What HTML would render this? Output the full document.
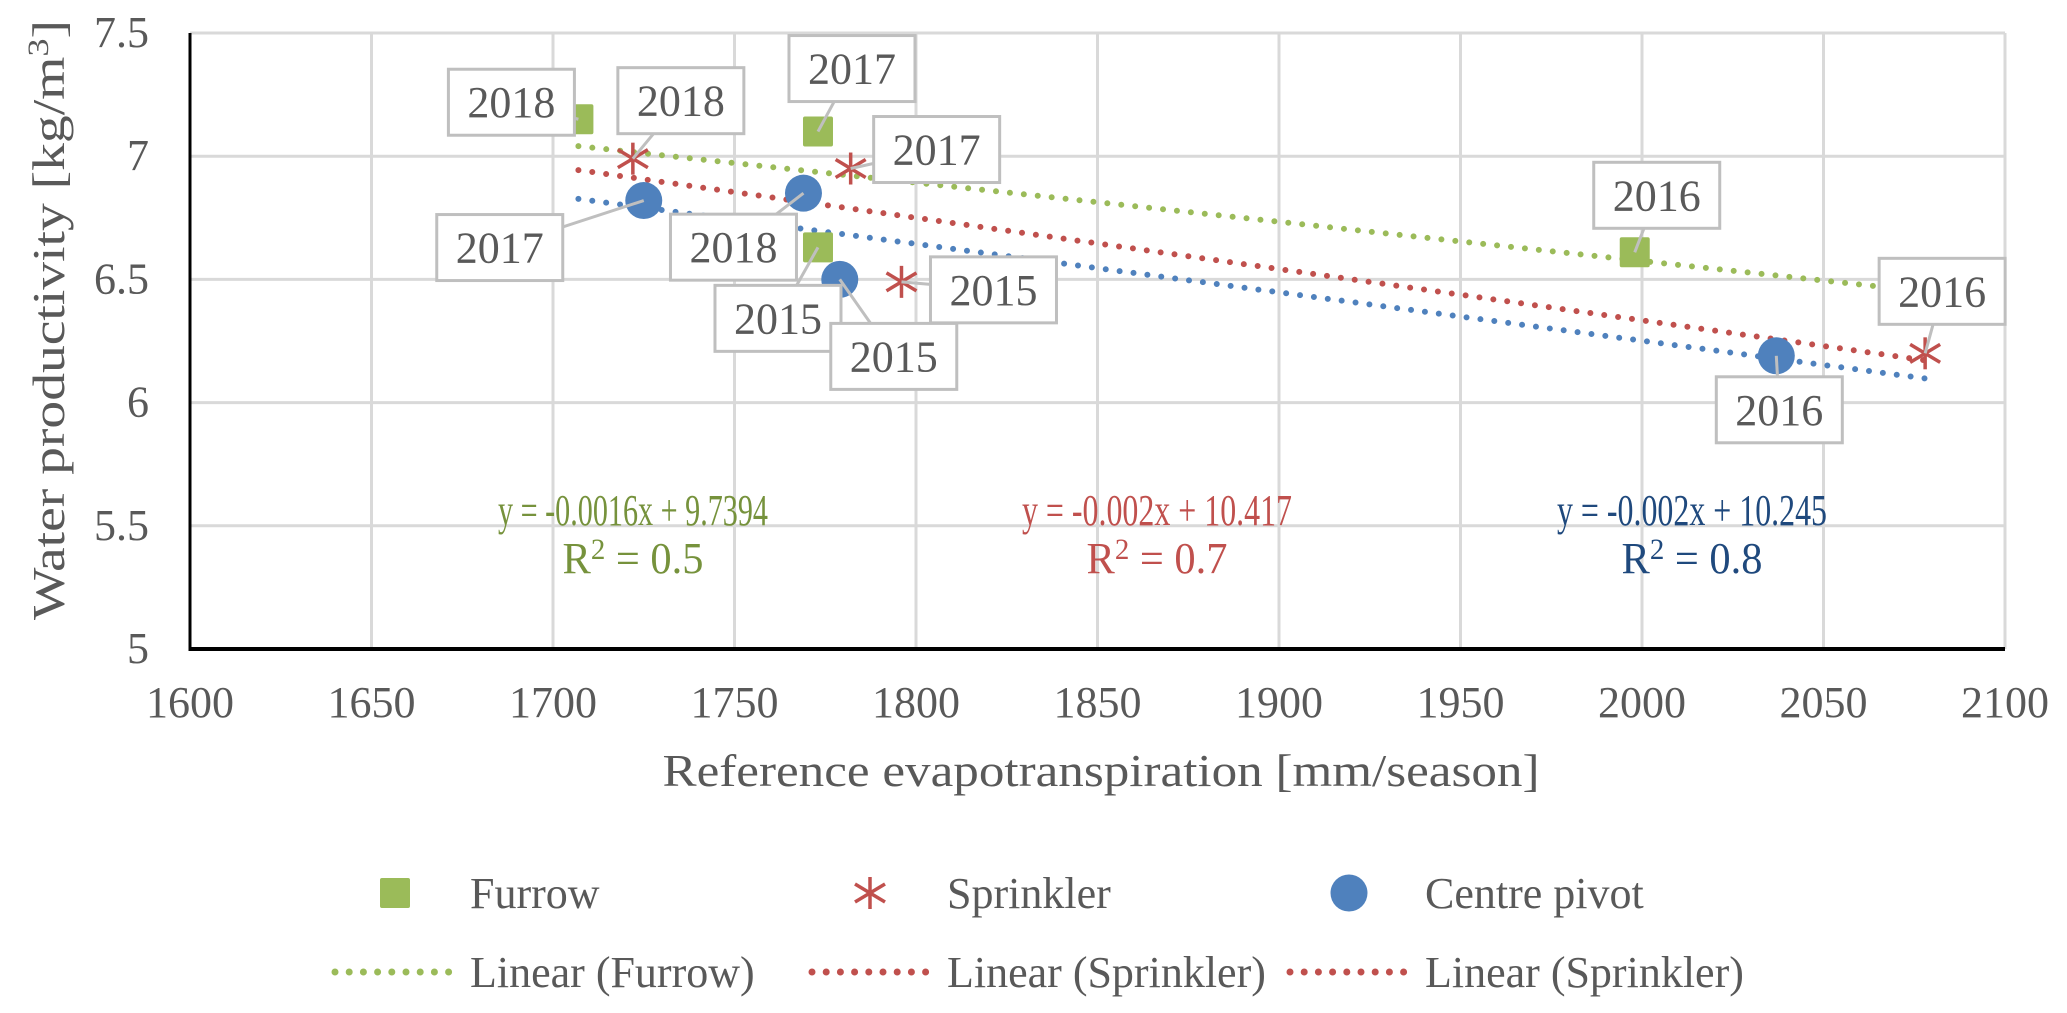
<!DOCTYPE html>
<html><head><meta charset="utf-8"><style>
html,body{margin:0;padding:0;background:#fff;}
svg{display:block;font-family:"Liberation Serif",serif;}
</style></head><body>
<svg id="chart" width="2067" height="1013" viewBox="0 0 2067 1013" xmlns="http://www.w3.org/2000/svg"></svg>
<script>
const xTicks = [1600,1650,1700,1750,1800,1850,1900,1950,2000,2050,2100];
const yTicks = [5,5.5,6,6.5,7,7.5];
const yTickLabels = ["5","5.5","6","6.5","7","7.5"];
const furrowX = [1707,1773,1773,1998];
const furrowY = [7.15,7.10,6.63,6.61];
const furrowLabels = ["2018","2017","2015","2016"];
const sprinklerX = [1722,1782,1796,2078];
const sprinklerY = [6.99,6.95,6.49,6.20];
const sprinklerLabels = ["2018","2017","2015","2016"];
const pivotX = [1725,1769,1779,2037];
const pivotY = [6.82,6.85,6.50,6.19];
const pivotLabels = ["2017","2018","2015","2016"];

const NS="http://www.w3.org/2000/svg";
const svg=document.getElementById('chart');
const X0=190,X1=2005,Y0=649,Y1=33;
function sx(v){return X0+(v-1600)/(2100-1600)*(X1-X0);}
function sy(v){return Y0-(v-5)/(7.5-5)*(Y0-Y1);}
function mk(tag,attrs,parent){const e=document.createElementNS(NS,tag);for(const k in attrs)e.setAttribute(k,attrs[k]);(parent||svg).appendChild(e);return e;}

const grid=mk('g',{});


xTicks.forEach(t=>{if(t>1600)mk('line',{x1:sx(t),x2:sx(t),y1:Y1,y2:Y0,stroke:'#d9d9d9','stroke-width':3},grid);});
yTicks.forEach(t=>{if(t>5)mk('line',{x1:X0,x2:X1,y1:sy(t),y2:sy(t),stroke:'#d9d9d9','stroke-width':3},grid);});
const ax=mk('line',{x1:X0,x2:X0,y1:Y1,y2:Y0+1.5,stroke:'#000','stroke-width':3});


const axx=mk('line',{x1:X0-1.5,x2:X1,y1:Y0,y2:Y0,stroke:'#000','stroke-width':4});


xTicks.forEach(t=>{const e=mk('text',{x:sx(t),y:717,'text-anchor':'middle','font-size':44,fill:'#595959'});e.textContent=t;

});
yTicks.forEach((t,i)=>{const e=mk('text',{x:149,y:sy(t)+14,'text-anchor':'end','font-size':44,fill:'#595959'});e.textContent=yTickLabels[i];

});
const yt=mk('text',{x:0,y:0,transform:'translate(64,320) rotate(-90)','text-anchor':'middle','font-size':46,fill:'#595959',textLength:600,lengthAdjust:'spacingAndGlyphs'});
yt.innerHTML='Water productivity [kg/m<tspan dy="-16" font-size="30">3</tspan><tspan dy="16">]</tspan>';


const xt=mk('text',{x:1101,y:786,'text-anchor':'middle','font-size':46,fill:'#595959',textLength:877,lengthAdjust:'spacingAndGlyphs'});
xt.textContent='Reference evapotranspiration [mm/season]';



const allX=furrowX.concat(sprinklerX,pivotX);
const tmin=Math.min(...allX),tmax=Math.max(...allX);
function reg(xs,ys){const n=xs.length;const mx=xs.reduce((a,b)=>a+b)/n,my=ys.reduce((a,b)=>a+b)/n;let sxy=0,sxx=0;for(let i=0;i<n;i++){sxy+=(xs[i]-mx)*(ys[i]-my);sxx+=(xs[i]-mx)**2;}const m=sxy/sxx;return [m,my-m*mx];}
function trend(xs,ys,color,name){const [m,b]=reg(xs,ys);const l=mk('line',{x1:sx(tmin),y1:sy(m*tmin+b),x2:sx(tmax),y2:sy(m*tmax+b),stroke:color,'stroke-width':6,'stroke-linecap':'round','stroke-dasharray':'0 14'});

}
trend(furrowX,furrowY,'#9bbb59','trendline-furrow');
trend(sprinklerX,sprinklerY,'#c0504d','trendline-sprinkler');
trend(pivotX,pivotY,'#4f81bd','trendline-centre-pivot');

function square(cx,cy,g){return mk('rect',{x:cx-15,y:cy-15,width:30,height:30,rx:2,fill:'#9bbb59'},g);}
function star(cx,cy,g){const s=mk('g',{stroke:'#c0504d','stroke-width':3.5},g);mk('line',{x1:cx,y1:cy-16,x2:cx,y2:cy+16},s);mk('line',{x1:cx-15,y1:cy-9,x2:cx+15,y2:cy+9},s);mk('line',{x1:cx-15,y1:cy+9,x2:cx+15,y2:cy-9},s);return s;}
function circ(cx,cy,g){return mk('circle',{cx:cx,cy:cy,r:18.5,fill:'#4f81bd'},g);}
const pts=mk('g',{});
furrowX.forEach((v,i)=>{const e=square(sx(v),sy(furrowY[i]),pts);

});
sprinklerX.forEach((v,i)=>{const e=star(sx(v),sy(sprinklerY[i]),pts);

});
pivotX.forEach((v,i)=>{const e=circ(sx(v),sy(pivotY[i]),pts);

});

const furrowOff=[[-130,-50],[-29,-96],[-103,38],[-41,-90]];
const sprinklerOff=[[-15,-91],[23,-52],[29,-25],[-46,-95]];
const pivotOff=[[-207,14],[-133,21],[-9,44],[-60,21]];
function callouts(xs,ys,labels,offs){xs.forEach((v,i)=>{const px=sx(v),py=sy(ys[i]);const bx=px+offs[i][0],by=py+offs[i][1];const w=126,h=66;
const g=mk('g',{});


mk('line',{x1:bx+w/2,y1:by+h/2,x2:px,y2:py,stroke:'#bfbfbf','stroke-width':3},g);
mk('rect',{x:bx,y:by,width:w,height:h,fill:'#fff',stroke:'#bfbfbf','stroke-width':3},g);
const t=mk('text',{x:bx+w/2,y:by+h/2+15,'text-anchor':'middle','font-size':44,fill:'#595959'},g);t.textContent=labels[i];});}
callouts(furrowX,furrowY,furrowLabels,furrowOff);
callouts(sprinklerX,sprinklerY,sprinklerLabels,sprinklerOff);
callouts(pivotX,pivotY,pivotLabels,pivotOff);

function eq(x,text,r2,color,name){const a=mk('text',{x:x,y:525,'text-anchor':'middle','font-size':44,fill:color,textLength:270,lengthAdjust:'spacingAndGlyphs'});a.textContent=text;


const b=mk('text',{x:x,y:573,'text-anchor':'middle','font-size':44,fill:color,textLength:141,lengthAdjust:'spacingAndGlyphs'});b.innerHTML='R<tspan dy="-14" font-size="30">2</tspan><tspan dy="14"> = '+r2+'</tspan>';

}
eq(633,'y = -0.0016x + 9.7394','0.5','#76923c','furrow');
eq(1157,'y = -0.002x + 10.417','0.7','#c0504d','sprinkler');
eq(1692,'y = -0.002x + 10.245','0.8','#1f497d','centre-pivot');

const lg=mk('g',{});


function ltext(x,y,s,name){const t=mk('text',{x:x,y:y+15,'font-size':44,fill:'#595959'},lg);t.textContent=s;

}
square(395,893,lg);ltext(470,893,'Furrow','legend-furrow');
star(870,893,lg);ltext(947,893,'Sprinkler','legend-sprinkler');
circ(1349,893,lg);ltext(1425,893,'Centre pivot','legend-centre-pivot');
function ldots(x1,x2,c){mk('line',{x1:x1,x2:x2,y1:972,y2:972,stroke:c,'stroke-width':7,'stroke-linecap':'round','stroke-dasharray':'0 14.2'},lg);}
ldots(335,449,'#9bbb59');ltext(470,972,'Linear (Furrow)','legend-linear-furrow');
ldots(812,926,'#c0504d');ltext(947,972,'Linear (Sprinkler)','legend-linear-sprinkler');
ldots(1290,1404,'#c0504d');ltext(1425,972,'Linear (Sprinkler)','legend-linear-sprinkler-2');
</script>
</body></html>
